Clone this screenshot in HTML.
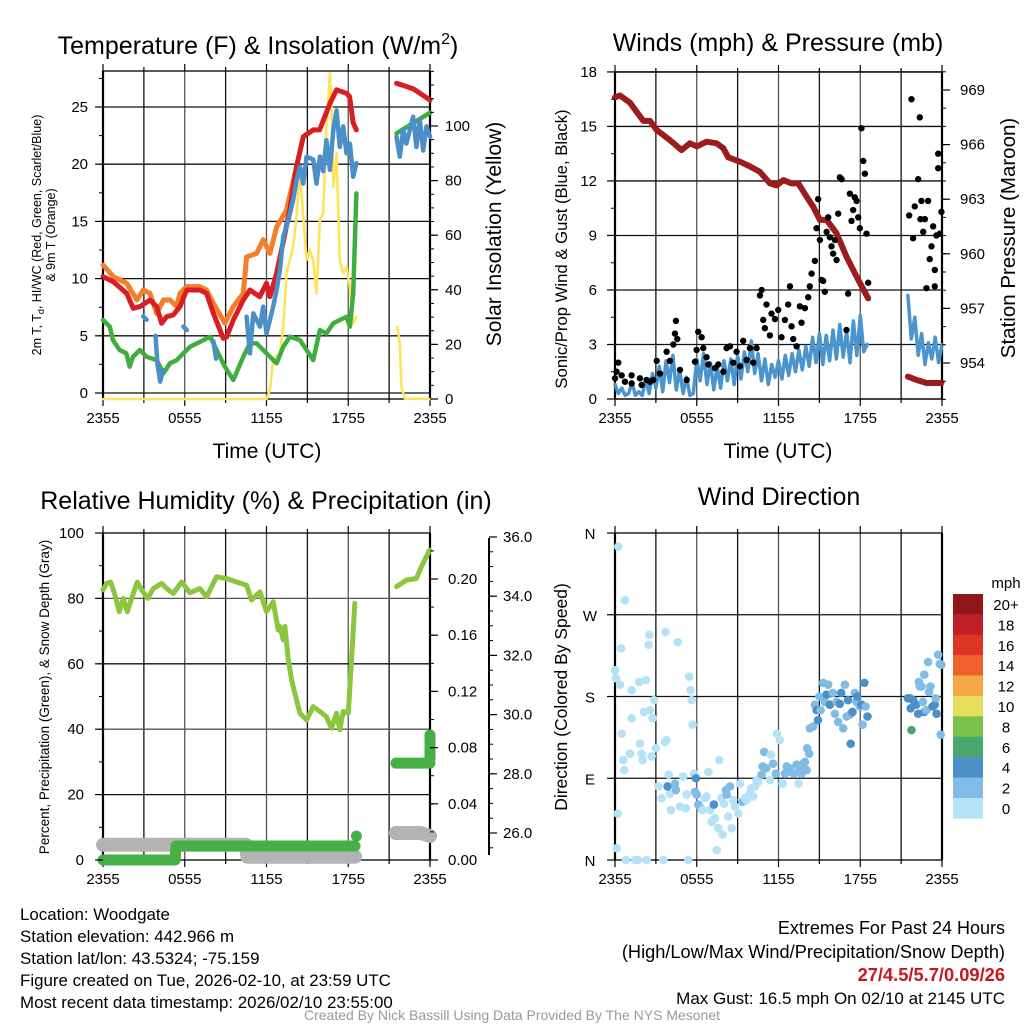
<!DOCTYPE html>
<html><head><meta charset="utf-8"><style>
html,body{margin:0;padding:0;background:#fff;}
svg{display:block;font-family:"Liberation Sans",sans-serif;}
</style></head><body>
<svg id="c" width="1024" height="1024" viewBox="0 0 1024 1024" xmlns="http://www.w3.org/2000/svg"></svg>
<script>
// ---------- DATA ----------
const xTickLabels=['2355','0555','1155','1755','2355'];
const tempTicks=[0,5,10,15,20,25];
const solarTicks=[0,20,40,60,80,100];
const windTicks=[0,3,6,9,12,15,18];
const presTicks=[954,957,960,963,966,969];
const rhTicks=[0,20,40,60,80,100];
const precipTicks=[0,0.04,0.08,0.12,0.16,0.20];
const snowTicks=[26,28,30,32,34,36];
const dirTickLabels=['N','E','S','W','N'];
const dirTicks=[0,90,180,270,360];

const redT=[0,0.76,1.74,2.22,2.71,3.45,3.94,4.3,4.67,5.16,5.65,6.14,7.1,7.6,8.1,8.83,9.07,9.56,10.3,10.78,11.5,12.0,12.25,12.74,13.2,13.7,14.2,14.7,15.43,15.9,16.65,17.14,17.87,18.1,18.36,18.6,null,21.54,22.76,24];
const redV=[10.17,9.73,8.71,7.4,7.55,8.13,7.55,6.09,6.67,6.82,7.55,9.0,9.0,8.71,6.96,4.78,4.9,6.38,8.13,9.0,8.42,9.59,8.42,10.46,13.08,16.0,19.78,22.4,23.0,23.0,25.3,26.5,26.2,25.9,23.6,23.0,null,27.07,26.6,25.6];
const orangeT=[0,0.76,1.74,2.49,2.96,3.45,3.94,4.43,4.92,5.41,5.65,6.14,7.1,7.6,8.1,8.95,9.56,10.3,10.54,11.27,11.76,12.25,12.74,13.47,14.2];
const orangeV=[11.19,10.17,9.59,8.13,9.0,8.71,6.96,8.13,8.13,7.55,8.71,9.3,9.3,9.0,7.84,6.09,7.55,8.71,11.9,12.2,13.4,12.2,14.5,16.0,19.78];
const blueT=[2.95,3.2,null,3.85,4.0,4.2,4.4,null,5.9,6.15,null,8.1,8.3,null,10.54,10.78,11.03,11.52,11.76,12.0,12.25,12.49,12.74,12.98,13.23,13.6,13.96,14.2,14.45,14.69,14.94,15.43,15.67,15.92,16.16,16.4,16.65,16.9,17.14,17.38,17.63,17.87,18.12,18.36,18.6,null,21.54,21.78,22.03,22.27,22.76,23.0,23.25,23.5,23.74,24.0];
const blueV=[6.7,6.4,null,5.0,2.5,1.0,2.0,null,5.8,5.5,null,4.5,3.0,null,6.67,3.47,6.96,5.8,7.55,5.2,6.38,7.55,9.0,10.75,13.67,15.1,16.9,18.6,19.78,18.3,20.66,20.4,18.3,20.66,19.4,22.1,19.5,23.0,24.7,21.5,23.3,20.95,21.8,18.9,20.1,null,22.4,20.66,23.0,21.8,24.15,21.5,23.9,21.2,23.3,22.4];
const greenT=[0,0.5,0.73,1.22,1.71,1.96,2.2,2.71,3.2,3.94,4.43,4.92,5.41,5.9,6.4,6.89,7.38,7.87,8.34,8.95,9.56,10.3,10.78,11.27,12.0,12.74,13.23,13.72,14.45,14.94,15.43,15.92,16.4,16.9,17.87,18.12,18.36,18.6,null,21.54,22.5,24];
const greenV=[6.38,5.8,4.63,3.76,3.47,2.3,3.17,3.76,3.17,2.88,1.72,2.6,2.88,3.47,4.05,4.34,4.63,4.92,3.76,2.3,1.14,3.17,4.34,4.34,3.47,2.6,4.05,4.92,4.63,3.76,2.88,5.5,5.2,6.09,6.67,5.8,8.71,17.45,null,22.7,23.4,24.5];
const solarT=[0,12.0,12.25,12.49,12.98,13.23,13.47,13.96,14.2,14.45,14.69,14.94,15.18,15.43,15.67,15.92,16.16,16.4,16.65,16.77,16.9,17.14,17.38,17.63,17.87,18.12,18.36,18.6,null,21.6,21.78,21.9,22.15,24];
const solarV=[0,0,3.3,14.3,16.8,26.5,46,55.8,66.8,83.9,66.8,50.9,54.6,50.9,38.7,65.6,68,99.7,119.3,109.5,77.8,90,50.9,46,48.5,41.1,27.7,30.1,null,26.5,20.4,4.5,0.1,0];

const presT=[0,0.37,1.1,2.08,2.57,3.06,4.03,4.89,5.5,6.0,6.72,7.46,7.95,8.31,9.17,9.9,10.64,11.37,11.86,12.35,12.96,13.45,14.06,14.55,15.04,15.53,16.26,16.99,17.73,18.58,null,21.5,22.13,22.86,23.96];
const presV=[968.6,968.7,968.3,967.3,967.3,966.8,966.25,965.7,966.07,965.9,966.16,966.07,965.8,965.3,965.06,964.8,964.5,963.87,963.76,964.05,963.87,963.87,963.14,962.59,961.86,961.86,961.13,959.84,958.74,957.55,null,953.25,953.07,952.9,952.9];
const sonicStart1=0, sonicStep=0.25;
const sonicV1=[0.8,0.3,0.6,0.2,0.3,0.9,0.2,0.4,0.2,1.1,0.3,1.4,0.6,1.8,0.4,2.1,0.9,2.4,0.5,1.6,0.3,1.2,0.2,0.3,2.2,1.0,2.5,0.8,2.0,0.5,1.8,0.6,2.1,1.0,2.2,0.8,2.4,1.1,2.6,1.5,3.2,1.4,2.5,1.0,2.2,0.8,1.9,1.2,2.1,1.1,2.4,1.3,2.5,1.5,2.7,1.6,2.9,1.8,3.4,2.0,3.6,1.9,3.5,2.1,3.8,2.2,4.1,2.3,3.7,2.0,4.3,2.4,4.6,2.6,3.0];
const sonicStart2=21.5;
const sonicV2=[5.7,3.3,4.5,2.4,3.6,1.9,3.1,2.2,3.4,2.0,3.0];
const gustT=[0,.12,.24,.49,.73,1.22,1.22,1.83,1.96,2.32,2.57,2.81,3.06,3.3,3.79,4.03,4.28,4.4,4.47,4.57,4.77,5.26,5.87,5.99,6.11,6.36,6.48,6.72,6.85,7.33,7.58,7.95,8.19,8.44,8.68,8.92,9.17,9.41,9.66,9.9,10.15,10.39,10.64,10.76,10.88,11.0,11.12,11.37,11.49,11.74,11.98,12.22,12.47,12.71,12.84,12.96,13.08,13.33,13.57,13.69,13.94,14.18,14.3,14.43,14.67,14.79,14.91,15.04,15.16,15.28,15.4,15.53,15.65,15.77,15.89,16.01,16.14,16.26,16.38,16.5,16.63,16.99,17.11,17.24,17.36,17.48,17.6,17.73,17.85,17.97,18.09,18.22,18.34,18.46,18.58,21.59,21.76,21.88,22.0,22.25,22.37,22.42,22.49,22.62,22.74,22.86,22.98,23.1,23.23,23.35,23.47,23.59,23.72,23.72,23.84,23.96,23.47];
const gustV=[1.14,1.5,2.0,1.3,0.95,1.3,0.86,1.14,0.77,1.05,0.95,1.05,2.1,1.4,2.6,2.1,3.0,3.6,4.3,3.3,1.6,1.05,2.05,2.7,3.7,3.4,2.8,2.3,1.9,1.7,1.9,1.5,2.8,2.9,2.0,2.6,1.8,3.2,2.15,2.8,2.0,2.8,5.7,6.0,4.35,3.9,5.2,3.5,4.7,4.4,4.9,3.4,4.35,5.2,6.2,4.0,3.3,2.9,5.1,4.2,5.0,5.6,6.2,6.9,7.6,9.4,11.0,8.75,6.55,6.5,5.9,9.2,10.0,8.9,8.4,8.0,8.75,7.65,10.2,12.2,12.1,3.8,5.8,11.3,9.8,10.4,11.1,10.9,10.0,9.4,14.9,13.1,12.4,9.1,6.4,10.1,16.5,8.85,10.6,12.1,15.5,9.9,10.9,9.2,9.9,6.1,10.9,7.7,8.4,9.5,7.1,9.0,12.7,13.5,9.1,10.3,6.2];

const rhT=[0,.27,.56,.88,1.2,1.49,1.78,2.1,2.52,2.84,3.28,3.69,4.3,4.79,5.16,5.77,6.38,7.11,7.6,8.34,9.07,9.8,10.54,10.9,11.52,12.0,12.49,12.86,12.98,13.23,13.35,13.6,13.84,14.08,14.45,14.94,15.43,15.92,16.4,16.77,17.14,17.38,17.63,18.0,18.24,18.48,null,21.54,22.27,23.0,23.37,23.98];
const rhV=[82.6,84.6,85,81,75.9,80,75.9,80,85,82.6,80,83,84.6,82.6,81.5,85,81.7,83,80.5,86.6,86.1,85,84,79.5,82,75.9,79,70.3,71.4,67.3,71.4,61.2,55,51,44.9,42.8,46.9,45.4,43.8,40.3,44.9,39.8,45.4,44.9,61.2,78.5,null,83.6,85.6,86.1,89.7,94.8];
const precipT=[0,5.3,5.35,18.5,null,18.6,18.6,null,21.5,24,null,24,24];
const precipV=[0,0,0.01,0.01,null,0.017,0.017,null,0.069,0.069,null,0.072,0.089];
const snowT=[0,10.5,10.6,18.5,null,21.5,23.3,24];
const snowV=[25.6,25.6,25.2,25.2,null,26.0,26.0,25.9];

const dirT=[.24,0,.07,.37,.44,.73,.2,.12,.49,.61,.68,.8,1.1,1.22,1.22,1.47,1.7,1.78,1.83,1.96,2.03,2.13,2.27,2.32,2.47,2.52,2.57,2.69,2.76,2.86,3.0,3.18,3.42,3.55,3.67,3.7,3.79,3.94,4.03,4.1,3.86,4.4,4.47,4.6,4.77,5.0,5.2,5.26,5.38,5.45,5.55,5.62,5.7,5.8,5.94,5.87,6.0,6.11,6.28,6.43,6.6,6.72,6.85,6.97,7.09,7.26,7.33,7.46,7.58,7.65,7.82,7.9,8.0,8.14,8.19,8.31,8.44,8.56,8.68,8.8,9.05,9.17,9.36,9.54,9.66,9.9,10.0,10.15,10.27,10.4,10.5,10.76,10.83,10.95,11.12,11.37,11.44,11.6,11.8,11.9,12.1,12.3,12.47,12.6,12.79,12.96,13.13,13.33,13.47,13.57,13.69,13.8,13.94,14.06,14.1,14.25,14.3,14.55,14.67,14.8,14.9,15.0,15.09,15.28,15.4,15.53,15.65,15.77,16.0,16.14,16.26,16.38,16.5,16.6,16.75,16.87,17.0,17.1,17.24,17.3,17.43,17.6,17.73,17.78,17.97,18.1,18.17,18.3,18.4,18.53,21.5,21.64,21.7,21.76,21.88,22.1,22.25,22.3,22.37,22.5,22.6,22.7,22.7,22.85,22.98,23.05,23.15,23.3,23.47,23.54,23.6,23.72,23.84,23.96,23.9];
const dirV=[345,209,200,193,233,286,51,13,139,110,99,0,117,187,156,0,0,196,128,117,110,163,198,0,237,248,165,114,156,176,123,81,68,0,130,251,132,94,73,55,81,84,77,240,59,92,57,72,0,202,187,176,149,95,90,75,72,61,57,55,68,70,97,55,42,61,46,11,35,110,68,28,62,77,72,48,81,35,66,59,51,84,64,68,66,73,79,70,81,88,86,94,103,119,101,88,116,106,95,139,132,84,95,103,101,97,95,105,84,99,95,106,108,99,123,117,145,147,171,165,154,180,165,195,174,182,193,171,184,161,174,152,172,184,145,193,158,176,160,128,163,184,174,180,169,171,149,195,169,158,178,178,167,143,176,171,161,196,191,191,174,204,163,165,218,185,191,169,171,178,161,226,216,215,138];
const dirSpd=[0,0,0,0,0,0,0,0,0,0,0,0,0,0,0,0,0,0,0,0,0,0,0,0,0,0,0,0,0,0,0,0,0,0,0,0,0,0,0,0,4,2,2,0,0,0,0,0,0,0,0,0,0,0,4,2,2,2,2,0,0,0,0,0,0,4,0,0,0,0,0,0,0,2,2,0,2,0,0,0,0,0,2,0,0,0,0,0,0,0,0,2,2,2,2,0,0,2,2,0,0,0,2,2,2,2,2,2,0,2,2,2,2,2,2,2,2,2,2,4,4,2,2,2,2,4,2,4,2,2,2,2,4,4,2,2,2,4,2,4,4,2,2,4,2,4,2,4,2,4,4,4,4,6,4,4,4,2,2,2,2,2,4,2,2,2,2,4,4,2,4,2,2,2,2];
const cbLabels=['20+','18','16','14','12','10','8','6','4','2','0'];
const cbColors=['#8e1719','#c21f26','#de3428','#f0622c','#f6a847','#e6df5c','#7bc04c','#4aa86e','#4b90c6','#80bce5','#b5e2f7'];

// ---------- HELPERS ----------
const NS='http://www.w3.org/2000/svg';
const svg=document.getElementById('c');
function mk(tag,attrs,parent){const e=document.createElementNS(NS,tag);for(const k in attrs)e.setAttribute(k,attrs[k]);(parent||svg).appendChild(e);return e;}
function txt(s,x,y,size,anchor,name,extra){const e=mk('text',Object.assign({x:x,y:y,'font-size':size,'text-anchor':anchor||'middle',fill:'#000'},extra||{}));e.textContent=s;


return e;}
function line(x1,y1,x2,y2,stroke,w,name){const e=mk('line',{x1:x1,y1:y1,x2:x2,y2:y2,stroke:stroke,'stroke-width':w});


return e;}
function pathFrom(ts,vs,sx,sy){let d='',pen=false;for(let i=0;i<ts.length;i++){if(ts[i]===null||vs[i]===null){pen=false;continue;}d+=(pen?'L':'M')+sx(ts[i]).toFixed(1)+','+sy(vs[i]).toFixed(1);pen=true;}return d;}
function series(ts,vs,sx,sy,color,w,name){const e=mk('path',{d:pathFrom(ts,vs,sx,sy),fill:'none',stroke:color,'stroke-width':w,'stroke-linejoin':'round','stroke-linecap':'round'});


return e;}
function xs(p){return t=>p.x0+t*(p.x1-p.x0)/24;}

function frame(p,pname,hgrid,hgridColors){
  const sx=xs(p);
  for(let h=3;h<24;h+=3){line(sx(h),p.y0,sx(h),p.y1,(h%6===0)?'#555':'#111',1.3,pname+'-vgrid');}
  hgrid.forEach((y,i)=>line(p.x0,y,p.x1,y,hgridColors?hgridColors[i]:'#111',1.3,pname+'-hgrid'));
  const r=mk('rect',{x:p.x0,y:p.y0,width:p.x1-p.x0,height:p.y1-p.y0,fill:'none',stroke:'#000','stroke-width':1.3});
  
  
  line(p.x0,p.y0,p.x0,p.y1,'#000',2.2,pname+'-left-axis');
  line(p.x1,p.y0,p.x1,p.y1,'#000',2.2,pname+'-right-axis');
  for(let h=0;h<=24;h+=3){line(sx(h),p.y1,sx(h),p.y1+(h%6===0?7:4),'#000',1.2,pname+'-x-tick');line(sx(h),p.y0,sx(h),p.y0-(h%6===0?7:4),'#000',1.2,pname+'-x-tick-top');}
  xTickLabels.forEach((s,i)=>txt(s,sx(i*6),p.y1+24,15,'middle',pname+'-x-tick-label'));
}
function yTicks(x,vals,sy,dir,minorStep,lo,hi,labelFmt,labelX,anchor,pname,size){
  for(let v=lo;v<=hi+1e-9;v+=minorStep){const y=sy(v);if(y<0)continue;line(x,y,x+dir*4,y,'#000',1,pname+'-minor-tick');}
  vals.forEach(v=>{const y=sy(v);line(x,y,x+dir*8,y,'#000',1.2,pname+'-major-tick');txt(labelFmt(v),labelX,y+5,size||15,anchor,pname+'-tick-label');});
}

// ---------- PANEL 1: temperature ----------
const p1={x0:103,x1:430,y0:71,y1:399};
const sx1=xs(p1), yT=v=>393-v*11.44, yS=v=>399-v*2.73;
frame(p1,'temp',tempTicks.map(yT));
series(solarT,solarV,sx1,yS,'#fde35a',2.6,'solar-insolation-line');
series(orangeT,orangeV,sx1,yT,'#f47f2a',5,'temp-9m-line');
series(greenT,greenV,sx1,yT,'#40ae3f',4.5,'dewpoint-line');
series(redT,redV,sx1,yT,'#d91e23',5,'temp-2m-line');
series(blueT,blueV,sx1,yT,'#4a8fc8',4.5,'wind-chill-line');
yTicks(p1.x0,tempTicks,yT,-1,2.5,0,27.5,v=>String(v),88,'end','temp-left');
yTicks(p1.x1,solarTicks,yS,1,5,0,120,v=>String(v),445,'start','temp-right');
txt('Temperature (F) & Insolation (W/m',258,54,25,'middle','temp-title').innerHTML='Temperature (F) &amp; Insolation (W/m<tspan dy="-10" font-size="16">2</tspan><tspan dy="10">)</tspan>';
txt('Time (UTC)',267,458,21,'middle','temp-x-title');
txt('2m T, T',0,0,12.5,'middle','temp-y-title',{transform:'translate(41,235) rotate(-90)'}).innerHTML='2m T, T<tspan dy="3" font-size="9">d</tspan><tspan dy="-3">, HI/WC (Red, Green, Scarlet/Blue)</tspan>';
txt('& 9m T (Orange)',0,0,12.5,'middle','temp-y-title-2',{transform:'translate(55,235) rotate(-90)'});
txt('Solar Insolation (Yellow)',0,0,21,'middle','solar-y-title',{transform:'translate(501,234) rotate(-90)'});

// ---------- PANEL 2: winds ----------
const p2={x0:615,x1:942,y0:72,y1:399};
const sx2=xs(p2), yW=v=>399-v*18.17, yP=v=>363-(v-954)*18.2;
frame(p2,'wind',windTicks.map(yW));
series(presT,presV,sx2,yP,'#9b1c1c',6,'pressure-line');
const s1T=sonicV1.map((v,i)=>sonicStart1+i*sonicStep), s2T=sonicV2.map((v,i)=>sonicStart2+i*sonicStep);
series(s1T,sonicV1,sx2,yW,'#4a94d0',3.5,'sonic-wind-line');
series(s2T,sonicV2,sx2,yW,'#4a94d0',3.5,'sonic-wind-line-2');
gustT.forEach((t,i)=>{const c=mk('circle',{cx:sx2(t),cy:yW(gustV[i]),r:3.2,fill:'#000'});

});
yTicks(p2.x0,windTicks,yW,-1,1.5,0,18,v=>String(v),597,'end','wind-left');
yTicks(p2.x1,presTicks,yP,1,1,952,970,v=>String(v),960,'start','pressure-right');
txt('Winds (mph) & Pressure (mb)',778,51,25,'middle','wind-title');
txt('Time (UTC)',778,458,21,'middle','wind-x-title');
txt('Sonic/Prop Wind & Gust (Blue, Black)',0,0,16.7,'middle','wind-y-title',{transform:'translate(567,249) rotate(-90)'});
txt('Station Pressure (Maroon)',0,0,20.5,'middle','pressure-y-title',{transform:'translate(1015,238) rotate(-90)'});

// ---------- PANEL 3: humidity ----------
const p3={x0:103,x1:430,y0:533,y1:860};
const sx3=xs(p3), yRH=v=>860-v*3.27, yPr=v=>860-v*1405, ySn=v=>833-(v-26)*29.6;
frame(p3,'rh',[20,40,60,80].map(yRH),['#111','#555','#111','#555']);
series(snowT,snowV,sx3,ySn,'#b3b3b3',14,'snow-depth-line');
series(precipT,precipV,sx3,yPr,'#46b046',11,'precip-line');
series(rhT,rhV,sx3,yRH,'#8cc63f',5,'rh-line');
yTicks(p3.x0,rhTicks,yRH,-1,10,0,100,v=>String(v),84,'end','rh-left');
yTicks(p3.x1,precipTicks,yPr,1,0.02,0,0.22,v=>v.toFixed(2),448,'start','precip-right');
line(489,538,489,855,'#000',2,'snow-axis');
yTicks(489,snowTicks,ySn,1,0.5,25.5,36,v=>v.toFixed(1),503,'start','snow-right');
txt('Relative Humidity (%) & Precipitation (in)',266,509,25,'middle','rh-title');
txt('Percent, Precipitation (Green), & Snow Depth (Gray)',0,0,13.5,'middle','rh-y-title',{transform:'translate(49,697) rotate(-90)'});

// ---------- PANEL 4: wind direction ----------
const p4={x0:615,x1:942,y0:533,y1:860};
const sx4=xs(p4), yD=v=>860-v*0.9083;
frame(p4,'dir',[90,180,270].map(yD));
const spdColor={0:'#b5e2f7',2:'#80bce5',4:'#4b90c6',6:'#4aa86e'};
dirT.forEach((t,i)=>{const c=mk('circle',{cx:sx4(t),cy:yD(dirV[i]),r:4.3,fill:spdColor[dirSpd[i]]});

});
dirTicks.forEach((d,i)=>{line(p4.x0,yD(d),p4.x0-8,yD(d),'#000',1.2,'dir-major-tick');txt(dirTickLabels[i],590,yD(d)+6,15,'middle','dir-tick-label');});
txt('Wind Direction',779,505,25,'middle','dir-title');
txt('Direction (Colored By Speed)',0,0,17.5,'middle','dir-y-title',{transform:'translate(567,697) rotate(-90)'});
cbColors.forEach((c,i)=>{const r=mk('rect',{x:953,y:594+i*20.4,width:30,height:20.6,fill:c});


txt(cbLabels[i],1006,594+i*20.4+16,15,'middle','colorbar-label');});
txt('mph',1006,588,15,'middle','colorbar-title');

// ---------- FOOTER TEXT ----------
const infoLines=['Location: Woodgate','Station elevation: 442.966 m','Station lat/lon: 43.5324; -75.159','Figure created on Tue, 2026-02-10, at 23:59 UTC','Most recent data timestamp: 2026/02/10 23:55:00'];
infoLines.forEach((s,i)=>txt(s,20,920+i*22,16.9,'start','station-info-line'));
txt('Extremes For Past 24 Hours',1005,934,18,'end','extremes-title');
txt('(High/Low/Max Wind/Precipitation/Snow Depth)',1005,958,18.2,'end','extremes-subtitle');
txt('27/4.5/5.7/0.09/26',1005,981,18.3,'end','extremes-values',{fill:'#c8161d','font-weight':'bold'});
txt('Max Gust: 16.5 mph On 02/10 at 2145 UTC',1005,1004,17,'end','max-gust');
txt('Created By Nick Bassill Using Data Provided By The NYS Mesonet',512,1020,14,'middle','credit',{fill:'#999'});
</script>
</body></html>
